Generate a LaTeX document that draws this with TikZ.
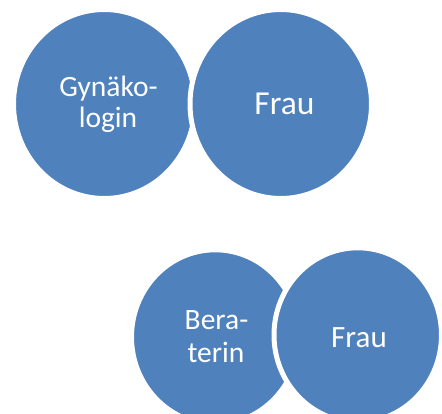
\documentclass[tikz,border=0pt]{standalone}
\usepackage{fontspec}
\setmainfont{Carlito}
\usetikzlibrary{shapes.geometric}
\definecolor{discblue}{HTML}{4F81BD}
\tikzset{
  disc/.style={ellipse, fill=discblue, draw=white, line width=5pt, inner sep=0pt},
  bigdisc/.style={disc, minimum width=181.5pt, minimum height=189pt},
  smalldisc/.style={disc, minimum width=167.5pt, minimum height=174.4pt},
  word/.style={text=white, inner sep=0pt, anchor=base},
}
\begin{document}
\begin{tikzpicture}[x=1pt, y=-1pt]
  \useasboundingbox (0,0) rectangle (442,414);
  \clip (0,0) rectangle (442,414);
  \fill[white] (0,0) rectangle (442,414);

  % upper pair
  \node[bigdisc] (gyn) at (104.25,104) {};
  \node[bigdisc] (frauA) at (280.75,104) {};
  \node[word, font=\fontsize{29.5}{34}\selectfont] (gynA) at (108.5,97) {Gynäko-};
  \node[word, font=\fontsize{29.5}{34}\selectfont] (gynB) at (108,128) {login};
  \node[word, font=\fontsize{33.5}{38}\selectfont] (frauAt) at (284.5,115) {Frau};

  % lower pair
  \node[smalldisc] (ber) at (215.25,337) {};
  \node[smalldisc] (frauB) at (357.75,335) {};
  \node[word, font=\fontsize{29.5}{34}\selectfont] (berA) at (216.5,330) {Bera-};
  \node[word, font=\fontsize{29.5}{34}\selectfont] (berB) at (216,362) {terin};
  \node[word, font=\fontsize{31}{36}\selectfont] (frauBt) at (359,347) {Frau};
\end{tikzpicture}
\end{document}
